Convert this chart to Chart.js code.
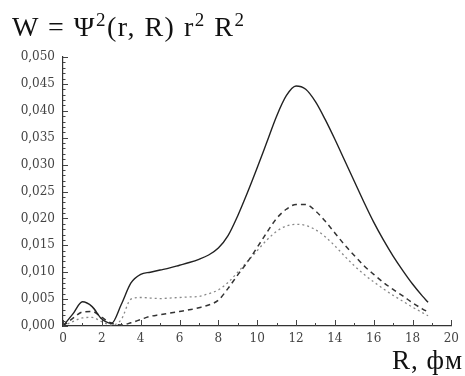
<!DOCTYPE html>
<html>
<head>
<meta charset="utf-8">
<script src="https://cdn.jsdelivr.net/npm/chart.js@4"></script>
<style>
  html, body { margin: 0; padding: 0; background: #fff; }
  #wrap { position: relative; width: 465px; height: 376px; }
  #chart { position: absolute; left: 0; top: 0; }
  .title {
    position: absolute; left: 12px; top: 13px;
    font-family: "Liberation Serif", serif; font-size: 28px; color: #111;
    letter-spacing: 1.5px; white-space: nowrap; line-height: 1;
  }
  .title sup { font-size: 19px; vertical-align: 0; position: relative; top: -10px; }
  .xlabel {
    position: absolute; left: 392px; top: 347px;
    font-family: "Liberation Serif", serif; font-size: 27px; color: #111;
    letter-spacing: 1px; white-space: nowrap; line-height: 1;
  }
</style>
</head>
<body>
<div id="wrap">
  <canvas id="chart" width="465" height="376"></canvas>
  <div class="title">W = &Psi;<sup>2</sup>(r, R) r<sup>2</sup> R<sup>2</sup></div>
  <div class="xlabel">R, фм</div>
</div>
<script>
// R values, fm
const rValues = [0, 0.5, 1, 1.5, 2, 2.5, 3, 3.5, 4, 4.5, 5, 5.5, 6, 6.5, 7, 7.5, 8, 8.5, 9, 9.5,
                 10, 10.5, 11, 11.5, 12, 12.5, 13, 13.5, 14, 14.5, 15, 15.5, 16, 16.5, 17, 17.5, 18, 18.5, 18.8];

// solid curve
const wSolid = [0, 0.0022, 0.0045, 0.0036, 0.0013, 0.0005, 0.0040, 0.0080, 0.0096, 0.0100,
                0.0104, 0.0108, 0.0113, 0.0118, 0.0124, 0.0132, 0.0145, 0.0168, 0.0205, 0.0248,
                0.0294, 0.0342, 0.0390, 0.0428, 0.0446, 0.0440, 0.0417, 0.0384, 0.0347, 0.0308,
                0.0269, 0.0230, 0.0193, 0.0160, 0.0130, 0.0103, 0.0078, 0.0056, 0.0044];

// dashed curve
const wDashed = [0, 0.0014, 0.0026, 0.0027, 0.0016, 0.0005, 0.0002, 0.0006, 0.0012, 0.0018,
                 0.0021, 0.0024, 0.0027, 0.0030, 0.0034, 0.0039, 0.0048, 0.0070, 0.0095, 0.0119,
                 0.0146, 0.0174, 0.0200, 0.0217, 0.0226, 0.0226, 0.0214, 0.0195, 0.0173, 0.0151,
                 0.0131, 0.0112, 0.0096, 0.0081, 0.0068, 0.0056, 0.0043, 0.0032, 0.0026];

// dotted curve
const wDotted = [0, 0.0008, 0.0015, 0.0016, 0.0008, 0.0002, 0.0012, 0.0050, 0.0053, 0.0052,
                 0.0051, 0.0052, 0.0053, 0.0054, 0.0055, 0.0060, 0.0067, 0.0081, 0.0100, 0.0120,
                 0.0140, 0.0160, 0.0176, 0.0186, 0.0189, 0.0187, 0.0179, 0.0166, 0.0149, 0.0130,
                 0.0112, 0.0096, 0.0082, 0.0069, 0.0057, 0.0046, 0.0035, 0.0025, 0.0019];

// axis ticks
const xTicks = [0, 2, 4, 6, 8, 10, 12, 14, 16, 18, 20];
const yTicks = [0, 0.005, 0.010, 0.015, 0.020, 0.025, 0.030, 0.035, 0.040, 0.045, 0.050];

function toPoints(ys) {
    return rValues.map((r, i) => ({ x: r, y: ys[i] }));
}

/**
 * Draw the axis ticks pointing inside the plot, majors and minors
 */
const innerTicks = {
    id: 'innerTicks',
    afterDraw(chart) {
        const ctx = chart.ctx;
        const xs = chart.scales.x;
        const ys = chart.scales.y;
        const x0 = xs.getPixelForValue(0);
        const y0 = ys.getPixelForValue(0);
        ctx.save();
        ctx.strokeStyle = '#444';
        ctx.lineWidth = 1;
        ctx.beginPath();
        for (let v = 0; v <= 20; v += 1) {
            const px = Math.round(xs.getPixelForValue(v)) + 0.5;
            const len = v % 2 === 0 ? 6 : 3;
            ctx.moveTo(px, y0);
            ctx.lineTo(px, y0 - len);
        }
        for (let k = 0; k <= 50; k++) {
            const py = Math.round(ys.getPixelForValue(k / 1000)) + 0.5;
            const len = k % 5 === 0 ? 5 : 2.5;
            ctx.moveTo(x0, py);
            ctx.lineTo(x0 + len, py);
        }
        ctx.stroke();
        ctx.restore();
    }
};

const lineBase = {
    pointRadius: 0,
    fill: false,
    tension: 0.4,
    cubicInterpolationMode: 'monotone'
};

new Chart(document.getElementById('chart'), {
    type: 'line',
    data: {
        datasets: [
            Object.assign({ data: toPoints(wSolid), borderColor: '#222', borderWidth: 1.4 }, lineBase),
            Object.assign({ data: toPoints(wDashed), borderColor: '#333', borderWidth: 1.5, borderDash: [5, 4] }, lineBase),
            Object.assign({ data: toPoints(wDotted), borderColor: '#888', borderWidth: 1.3, borderDash: [2, 3] }, lineBase)
        ]
    },
    options: {
        responsive: false,
        animation: false,
        layout: { padding: { left: 0, right: 8, top: 57, bottom: 0 } },
        plugins: {
            legend: { display: false },
            tooltip: { enabled: false }
        },
        scales: {
            x: {
                type: 'linear',
                min: 0,
                max: 20,
                afterBuildTicks: axis => { axis.ticks = xTicks.map(v => ({ value: v })); },
                afterFit: axis => { axis.height = 50; },
                grid: { display: false, drawTicks: false },
                border: { display: true, color: '#333', width: 1.2 },
                ticks: {
                    padding: 6,
                    color: '#444',
                    font: { family: 'DejaVu Serif', size: 12 }
                }
            },
            y: {
                type: 'linear',
                min: 0,
                max: 0.05,
                afterBuildTicks: axis => { axis.ticks = yTicks.map(v => ({ value: v })); },
                afterFit: axis => { axis.width = 63; },
                grid: { display: false, drawTicks: false },
                border: { display: true, color: '#333', width: 1.2 },
                ticks: {
                    padding: 8,
                    color: '#444',
                    font: { family: 'DejaVu Serif', size: 12 },
                    callback: v => v.toFixed(3).replace('.', ',')
                }
            }
        }
    },
    plugins: [innerTicks]
});
</script>
</body>
</html>
